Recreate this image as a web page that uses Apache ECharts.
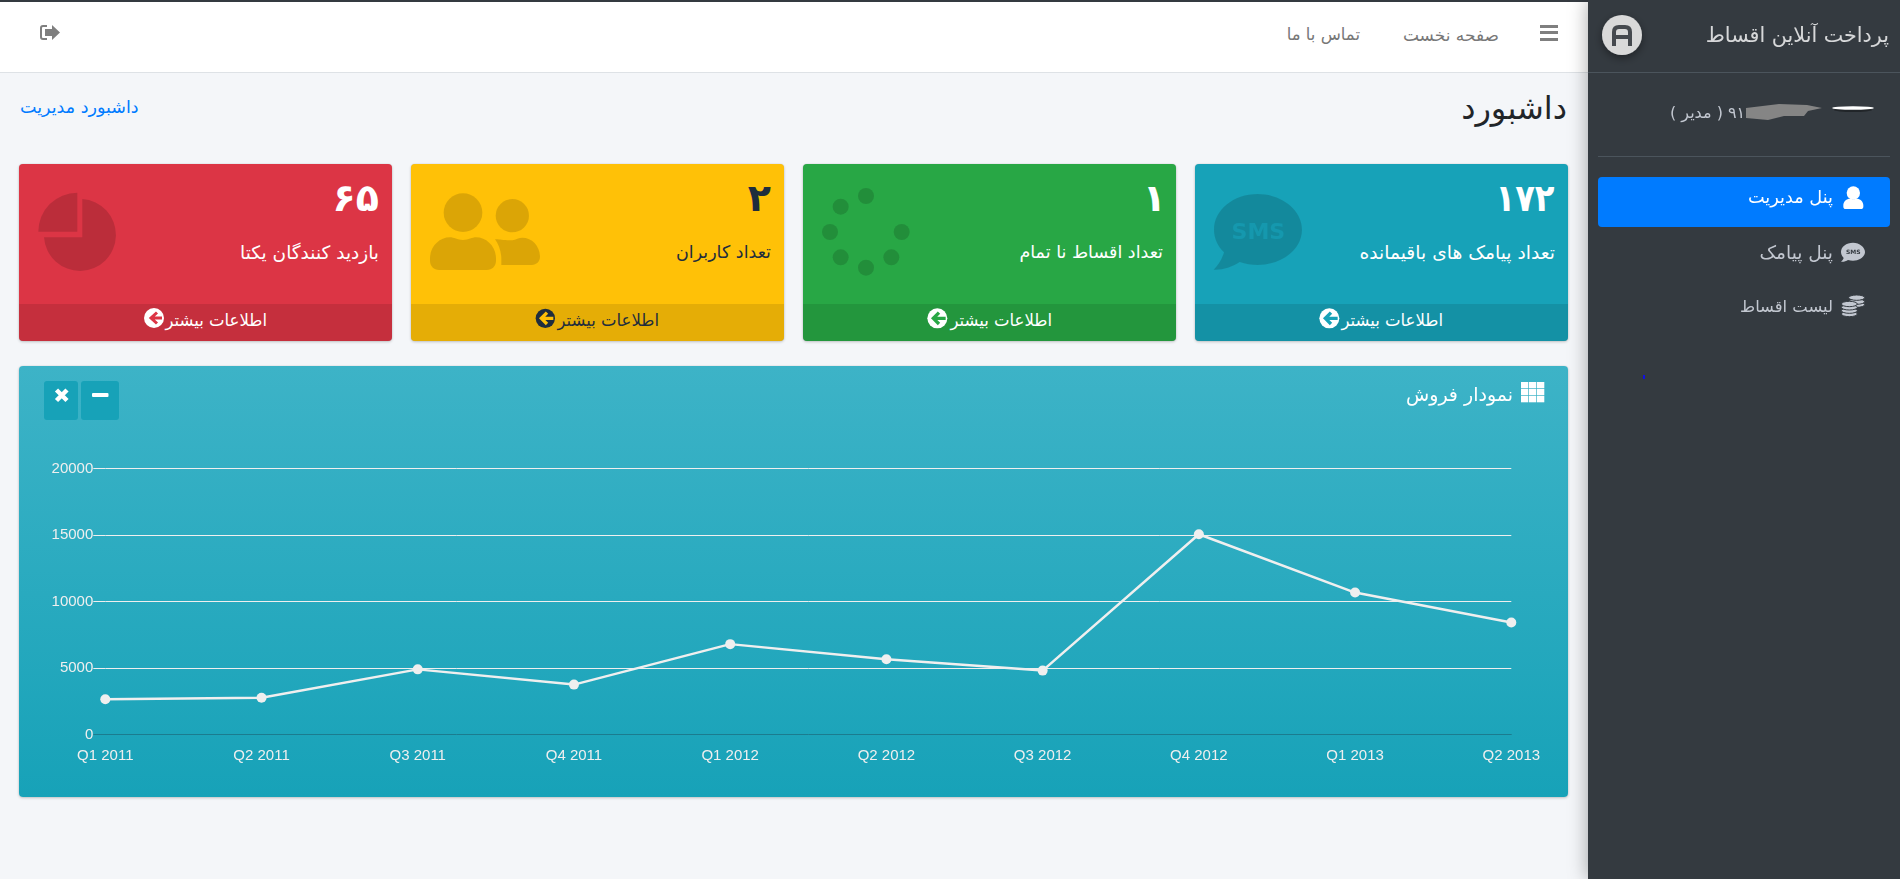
<!DOCTYPE html>
<html lang="fa">
<head>
<meta charset="utf-8">
<title>داشبورد</title>
<script src="https://cdn.jsdelivr.net/npm/echarts@6/dist/echarts.min.js"></script>
<style>
  html, body { margin: 0; width: 1900px; height: 879px; overflow: hidden; background: #f4f6f9; font-family: 'DejaVu Sans', sans-serif; }
  .box { position: absolute; }
  .t { position: absolute; white-space: nowrap; direction: rtl; transform: translateY(-50%); line-height: 1; }
  .card { position: absolute; top: 164px; width: 373px; height: 177px; border-radius: 4px; box-shadow: 0 0 1px rgba(0,0,0,.2), 0 1px 3px rgba(0,0,0,.2); overflow: hidden; }
  .card .foot { position: absolute; left: 0; right: 0; bottom: 0; height: 37px; background: rgba(0,0,0,.1); }
  #sales-card { position: absolute; left: 19px; top: 366px; width: 1549px; height: 431px; border-radius: 4px; background: linear-gradient(180deg, #3db3c7 0%, #17a2b8 100%); box-shadow: 0 0 1px rgba(0,0,0,.2), 0 1px 3px rgba(0,0,0,.2); }
  #sales-chart { width: 1549px; height: 431px; }
  #overlay { position: absolute; left: 0; top: 0; pointer-events: none; }
  .big { font-weight: bold; font-size: 38px; }
  .lab { font-size: 17.5px; }
  .more { font-size: 16.5px; }
  .side { color: #c2c7d0; font-size: 17px; }
</style>
</head>
<body>
<!-- header -->
<div class="box" style="left:0;top:0;width:1900px;height:2px;background:#343a40"></div>
<div class="box" style="left:0;top:2px;width:1588px;height:70px;background:#fff;border-bottom:1px solid #dee2e6"></div>
<div class="t" style="right:401px;top:35px;font-size:17px;color:#777">صفحه نخست</div>
<div class="t" style="right:540px;top:35px;font-size:16.500px;color:#777">تماس با ما</div>
<div class="t" style="right:333px;top:108px;font-size:32px;color:#212529">داشبورد</div>
<div class="t" style="left:20px;top:108px;font-size:17.500px;color:#007bff">داشبورد مدیریت</div>

<!-- cards -->
<div class="card" style="left:1195px;background:#17a2b8"><div class="foot"></div></div>
<div class="card" style="left:803px;background:#28a745"><div class="foot"></div></div>
<div class="card" style="left:411px;background:#ffc107"><div class="foot"></div></div>
<div class="card" style="left:19px;background:#dc3545"><div class="foot"></div></div>

<div class="t big" style="right:345px;top:198px;color:#fff;letter-spacing:-3px;transform:translateY(-50%) scaleX(.85);transform-origin:right center">۱۷۲</div>
<div class="t big" style="right:734px;top:198px;color:#fff">۱</div>
<div class="t big" style="right:1129px;top:198px;color:#1f2d3d">۲</div>
<div class="t big" style="right:1521px;top:198px;color:#fff;letter-spacing:-1px">۶۵</div>
<div class="t lab" style="right:345px;top:253px;color:#fff;font-size:18.700px">تعداد پیامک های باقیمانده</div>
<div class="t lab" style="right:737px;top:253px;color:#fff">تعداد اقساط نا تمام</div>
<div class="t lab" style="right:1129px;top:253px;color:#1f2d3d">تعداد کاربران</div>
<div class="t lab" style="right:1521px;top:253px;color:#fff;font-size:18.500px">بازدید کنندگان یکتا</div>
<div class="t more" style="right:457px;top:321px;color:#fff">اطلاعات بیشتر</div>
<div class="t more" style="right:848px;top:321px;color:#fff">اطلاعات بیشتر</div>
<div class="t more" style="right:1241px;top:321px;color:#1f2d3d">اطلاعات بیشتر</div>
<div class="t more" style="right:1633px;top:321px;color:#fff">اطلاعات بیشتر</div>

<!-- chart card -->
<div id="sales-card"><div id="sales-chart"></div></div>
<div class="t" style="right:387px;top:394px;font-size:19px;color:#fff">نمودار فروش</div>
<div class="box" style="left:44px;top:381px;width:34px;height:39px;background:#17a2b8;border-radius:3px"></div>
<div class="box" style="left:81px;top:381px;width:38px;height:39px;background:#17a2b8;border-radius:3px"></div>

<!-- sidebar -->
<div class="box" style="left:1588px;top:0;width:312px;height:879px;background:#343a40;box-shadow:0 0 18px rgba(0,0,0,.35)"></div>
<div class="box" style="left:1588px;top:72px;width:312px;height:1px;background:#4b545c"></div>
<div class="box" style="left:1598px;top:156px;width:292px;height:1px;background:#4b545c"></div>
<div class="box" style="left:1598px;top:177px;width:292px;height:50px;background:#007bff;border-radius:4px"></div>
<div class="t" style="right:11px;top:35px;font-size:20.700px;color:rgba(255,255,255,.8)">پرداخت آنلاین اقساط</div>
<div class="t side" style="left:1670px;top:113px;font-size:16px;direction:ltr">( مدیر ) ۹۱۲۶</div>
<div class="t side" style="right:67px;top:198px;color:#fff;font-size:17.700px">پنل مدیریت</div>
<div class="t side" style="right:67px;top:253px;font-size:18.500px">پنل پیامک</div>
<div class="t side" style="right:67px;top:307px;font-size:16.400px">لیست اقساط</div>

<!-- icons -->
<svg id="overlay" width="1900" height="879" xmlns="http://www.w3.org/2000/svg">
  <defs><filter id="soft" x="-50%" y="-50%" width="200%" height="200%"><feDropShadow dx="0" dy="3" stdDeviation="4" flood-color="#000" flood-opacity=".4"/></filter></defs>
  <!-- menu + logout -->
  <g fill="#7f7f7f">
    <rect x="1540" y="25" width="18" height="3"/><rect x="1540" y="31" width="18" height="3"/><rect x="1540" y="38" width="18" height="3"/>
    <path d="M47 25h-4a3 3 0 0 0-3 3v9a3 3 0 0 0 3 3h4v-2h-4a1 1 0 0 1-1-1v-9a1 1 0 0 1 1-1h4z"/>
    <path d="M45 29h7v-4l8 7.500-8 7.500v-4h-7z"/>
  </g>
  <!-- sms card -->
  <g transform="translate(1180,150) scale(.33333)">
    <path fill="rgba(0,0,0,.15)" d="M233 132c-73 0-131 48-131 107 0 26 11 49 30 68-7 24-20 41-31 52 24 2 54-7 78-23 17 6 35 9 54 9 73 0 133-48 133-106s-60-107-133-107z"/>
    <text x="235" y="266" text-anchor="middle" font-family="'DejaVu Sans'" font-weight="bold" font-size="66" fill="#1598ae">SMS</text>
    <circle cx="448" cy="505" r="30" fill="#fff"/>
    <path d="M473 505h-35M453 488l-17 17 17 17" fill="none" stroke="#17a2b8" stroke-width="10"/>
  </g>
  <!-- spinner card -->
  <g transform="translate(780,150) scale(.33333)">
    <g fill="rgba(0,0,0,.15)">
      <circle cx="258" cy="138" r="24"/><circle cx="182" cy="170" r="24"/><circle cx="150" cy="246" r="24"/><circle cx="182" cy="322" r="24"/>
      <circle cx="258" cy="353" r="24"/><circle cx="334" cy="322" r="24"/><circle cx="365" cy="246" r="24"/>
    </g>
    <circle cx="472" cy="505" r="30" fill="#fff"/>
    <path d="M497 505h-35M477 488l-17 17 17 17" fill="none" stroke="#28a745" stroke-width="10"/>
  </g>
  <!-- users card -->
  <g transform="translate(390,150) scale(.33333)">
    <g fill="rgba(0,0,0,.14)">
      <circle cx="219" cy="188" r="58"/>
      <circle cx="367" cy="197" r="50"/>
      <path d="M120 325c0-35 28-63 60-63 12 0 22 8 39 8s27-8 39-8c32 0 60 28 60 63v8c0 15-12 27-27 27H147c-15 0-27-12-27-27z"/>
      <path d="M315 268c10-2 22 3 52 3 10-2 20-8 30-8 30 0 53 26 53 58 0 13-11 24-24 24h-92v-18c0-22-8-44-19-59z"/>
    </g>
    <circle cx="466" cy="505" r="29" fill="#1f2d3d"/>
    <path d="M490 505h-35M471 488l-17 17 17 17" fill="none" stroke="#ffc107" stroke-width="10"/>
  </g>
  <!-- pie card -->
  <g>
    <path fill="rgba(0,0,0,.15)" d="M82.300 199A36 36 0 1 1 44 237.300H82.300Z"/>
    <path fill="rgba(0,0,0,.15)" d="M77.300 192.700A39 39 0 0 0 38.300 231.700H77.300Z"/>
    <circle cx="154" cy="318" r="10" fill="#fff"/>
    <path d="M162 318h-11M157 312.500l-6 5.500 6 5.500" fill="none" stroke="#dc3545" stroke-width="3"/>
  </g>
  <!-- chart card title + buttons -->
  <g fill="#fff">
    <rect x="1521" y="382" width="7.300" height="6.300"/><rect x="1529" y="382" width="7.300" height="6.300"/><rect x="1537" y="382" width="7.300" height="6.300"/>
    <rect x="1521" y="389" width="7.300" height="6.300"/><rect x="1529" y="389" width="7.300" height="6.300"/><rect x="1537" y="389" width="7.300" height="6.300"/>
    <rect x="1521" y="396" width="7.300" height="6.300"/><rect x="1529" y="396" width="7.300" height="6.300"/><rect x="1537" y="396" width="7.300" height="6.300"/>
    <rect x="92" y="393" width="16.500" height="4" rx="1"/>
  </g>
  <path d="M56.500 390l10.500 10.500M67 390l-10.500 10.500" stroke="#fff" stroke-width="4.500" fill="none"/>
  <!-- logo -->
  <circle cx="1622" cy="35" r="20" fill="#d9d9d9" filter="url(#soft)"/>
  <path d="M1614 46V32q0-5 5-5h6q5 0 5 5v14M1614 37h16" fill="none" stroke="#45494e" stroke-width="4"/>
  <!-- user row -->
  <ellipse cx="1853" cy="110" rx="19" ry="2" fill="rgba(0,0,0,.35)"/>
  <ellipse cx="1853" cy="108" rx="21" ry="1.800" fill="#fff"/>
  <path d="M1746 108l33-4 28 1 15 3-14 3-4 5-20 0-16 4-22-2z" fill="#858585"/>
  <!-- sidebar menu icons -->
  <g transform="translate(1580,0) scale(.33333)">
    <circle cx="820" cy="579" r="20" fill="#fff"/>
    <path fill="#fff" d="M790 616c0-12 10-20 20-20 3 0 6 2 10 2s7-2 10-2c10 0 20 8 20 20v4c0 4-3 7-7 7h-46c-4 0-7-3-7-7z"/>
    <path fill="#c2c7d0" d="M819 728c-20 0-36 12-36 28 0 7 3 13 8 18-2 5-5 9-8 11 7 1 15-1 21-5 5 1 10 2 15 2 20 0 36-12 36-26s-16-28-36-28z"/>
    <text x="820" y="763" text-anchor="middle" font-family="'DejaVu Sans'" font-weight="bold" font-size="18" fill="#343a40">SMS</text>
    <g fill="#c2c7d0" stroke="#343a40" stroke-width="3">
      <ellipse cx="830" cy="914" rx="24" ry="8"/><ellipse cx="830" cy="905" rx="24" ry="8"/><ellipse cx="830" cy="893" rx="24" ry="8"/>
      <ellipse cx="808" cy="942" rx="24" ry="8"/><ellipse cx="808" cy="932" rx="24" ry="8"/><ellipse cx="808" cy="922" rx="24" ry="8"/><ellipse cx="808" cy="912" rx="24" ry="8"/>
    </g>
  </g>
  <rect x="1643" y="375" width="2" height="4" fill="#1010e0"/>
</svg>

<script>
const categories = ['Q1 2011', 'Q2 2011', 'Q3 2011', 'Q4 2011', 'Q1 2012', 'Q2 2012', 'Q3 2012', 'Q4 2012', 'Q1 2013', 'Q2 2013'];
const salesValues = [2666, 2778, 4912, 3767, 6810, 5670, 4820, 15073, 10687, 8432];
const gridTicks = [5000, 10000, 15000, 20000];
const baseTick = [0];

const lineColor = '#efefef';
const chart = echarts.init(document.getElementById('sales-chart'));
chart.setOption({
  animation: false,
  backgroundColor: 'transparent',
  grid: { left: 86.3, right: 56.7, top: 102.7, bottom: 62.3 },
  xAxis: {
    type: 'category',
    boundaryGap: false,
    data: categories,
    axisLine: { show: true, lineStyle: { color: '#1b7c8f', width: 1 } },
    axisTick: { show: false },
    splitLine: { show: false },
    axisLabel: { color: lineColor, fontFamily: 'Liberation Sans', fontSize: 15, margin: 14, interval: 0 }
  },
  yAxis: [{
    type: 'value',
    min: 0,
    max: 20000,
    interval: 5000,
    axisLine: { show: false },
    axisTick: { show: true, length: 12, customValues: gridTicks, lineStyle: { color: lineColor, width: 1 } },
    splitLine: { show: true, lineStyle: { color: lineColor, width: 1 } },
    axisLabel: { color: lineColor, fontFamily: 'Liberation Sans', fontSize: 15, margin: 12, padding: [0, 0, 2, 0], formatter: (v) => String(v) }
  }, {
    // only carries the dark stub of the zero line
    type: 'value',
    position: 'left',
    min: 0,
    max: 20000,
    interval: 5000,
    axisLine: { show: false },
    axisTick: { show: true, length: 12, customValues: baseTick, lineStyle: { color: '#1b7c8f', width: 1 } },
    splitLine: { show: false },
    axisLabel: { show: false }
  }],
  series: [{
    name: 'فروش',
    type: 'line',
    data: salesValues,
    symbol: 'circle',
    symbolSize: 10,
    z: 5,
    lineStyle: { color: lineColor, width: 2.5 },
    itemStyle: { color: lineColor }
  }]
});
</script>
</body>
</html>
